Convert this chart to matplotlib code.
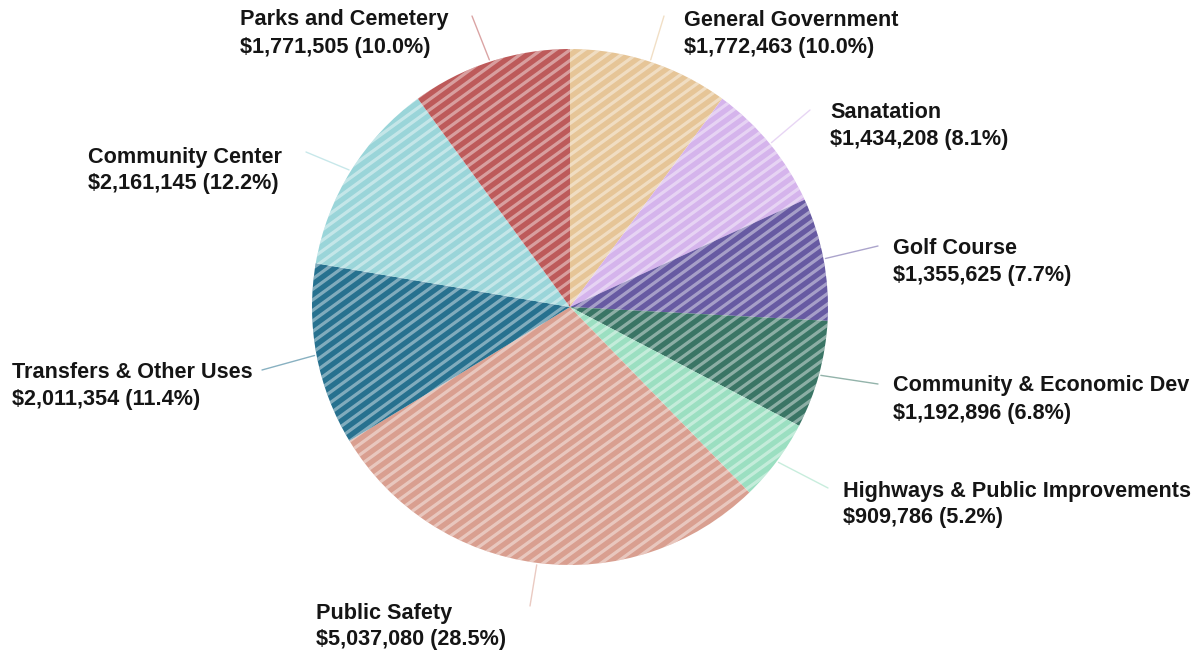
import matplotlib
matplotlib.use("Agg")
import matplotlib.pyplot as plt
from matplotlib.collections import LineCollection
from matplotlib.patches import Circle
import numpy as np

categories = ["General Government", "Sanatation", "Golf Course", "Community & Economic Dev",
              "Highways & Public Improvements", "Public Safety", "Transfers & Other Uses",
              "Community Center", "Parks and Cemetery"]
values = [1772463, 1434208, 1355625, 1192896, 909786, 5037080, 2011354, 2161145, 1771505]
pct_labels = ["10.0%", "8.1%", "7.7%", "6.8%", "5.2%", "28.5%", "11.4%", "12.2%", "10.0%"]
colors = ["#e6c597", "#d5b4ec", "#675aa2", "#3a7565", "#9bdfc1", "#d99f90", "#27718f",
          "#9ad5d9", "#bd5a5a"]

# layout (pixel coordinates, y measured from top)
W, H = 1198, 656
center = (570, 307)
radius = 258
label_pos = [(684, 20), (830, 113), (893, 249), (893, 386), (843, 491), (316, 613),
             (12, 373), (88, 157), (240, 20)]
leader_end = [(664, 16), (810, 110), (878, 246), (878, 384), (828, 488), (530, 606),
              (262, 370), (306, 152), (472, 16)]

plt.rcParams['font.family'] = ['Liberation Sans', 'DejaVu Sans']

fig = plt.figure(figsize=(W / 100, H / 100), dpi=100)
ax = fig.add_axes([0, 0, 1, 1])

cy = H - center[1]
wedges, _ = ax.pie(values, colors=colors, startangle=90, counterclock=False,
                   center=(center[0], cy), radius=radius,
                   wedgeprops=dict(linewidth=0))

ax.set_xlim(0, W)
ax.set_ylim(0, H)
ax.set_aspect("equal")
ax.axis("off")

# diagonal stripe texture clipped to the pie
angle = np.deg2rad(36)
period = 8.5
d = np.array([np.cos(angle), np.sin(angle)])
nrm = np.array([-np.sin(angle), np.cos(angle)])
segs = []
for k in np.arange(-radius * 1.5, radius * 1.5, period):
    p = np.array([center[0], cy]) + nrm * k
    segs.append([p - d * radius * 1.6, p + d * radius * 1.6])
lc = LineCollection(segs, colors=[(1, 1, 1, 0.42)], linewidths=2.3, zorder=3)
clip = Circle((center[0], cy), radius, transform=ax.transData)
ax.add_collection(lc)
lc.set_clip_path(clip)

for i, w in enumerate(wedges):
    ang = np.deg2rad((w.theta1 + w.theta2) / 2)
    x0 = center[0] + (radius + 2) * np.cos(ang)
    y0 = cy + (radius + 2) * np.sin(ang)
    ex, ey = leader_end[i]
    ax.plot([x0, ex], [y0, H - ey], color=colors[i], lw=1.0, alpha=0.55,
            solid_capstyle="round")
    lx, ly = label_pos[i]
    ax.text(lx, H - ly, categories[i], fontsize=15.6, fontweight="bold",
            ha="left", va="center", color="#151515")
    ax.text(lx, H - ly - 27, f"${values[i]:,} ({pct_labels[i]})", fontsize=15.6,
            fontweight="bold", ha="left", va="center", color="#151515")

fig.savefig("out.png", dpi=100, facecolor="white")
